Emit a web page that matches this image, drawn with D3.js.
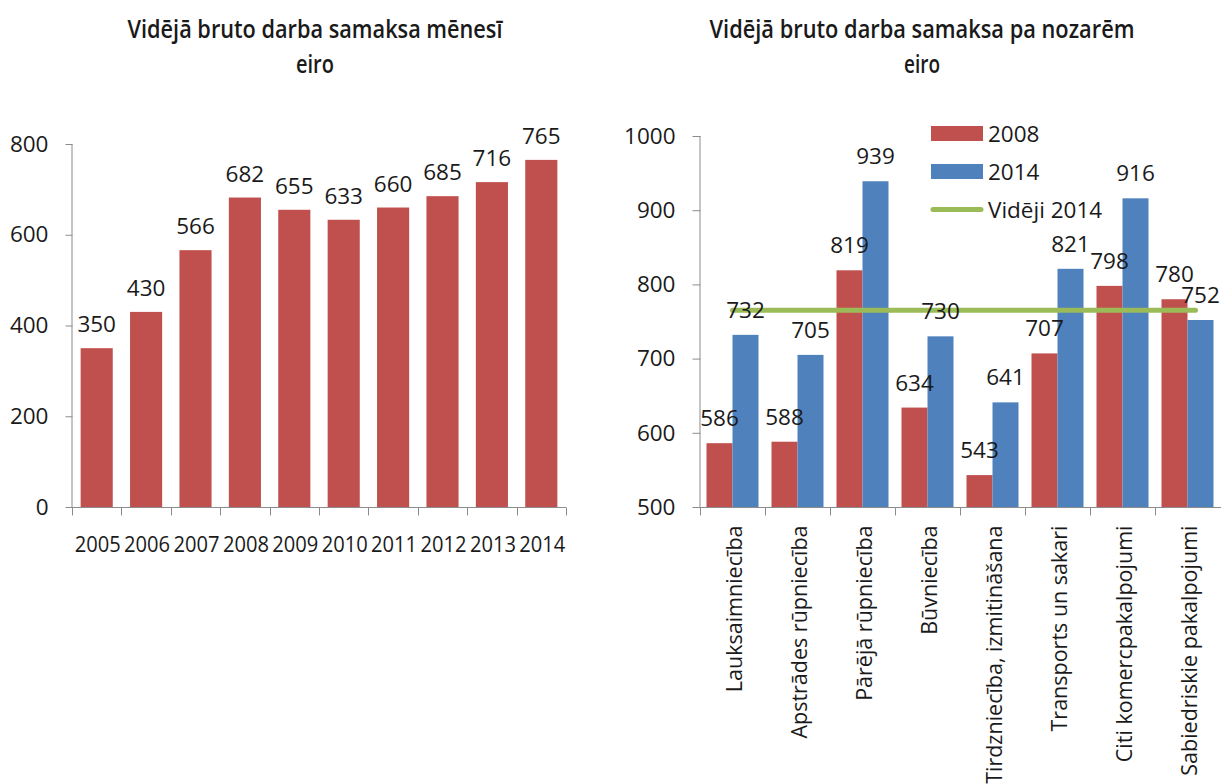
<!DOCTYPE html>
<html>
<head>
<meta charset="utf-8">
<script src="https://cdn.jsdelivr.net/npm/d3@7"></script>
<style>
  body { margin: 0; background: #fff; }
  svg text { font-family: "Open Sans", "Noto Sans", sans-serif; fill: #1a1a1a; }
</style>
</head>
<body>
<script>
// data
var years = ["2005", "2006", "2007", "2008", "2009", "2010", "2011", "2012", "2013", "2014"];
var wageByYear = [350, 430, 566, 682, 655, 633, 660, 685, 716, 765];

var sectors = ["Lauksaimniecība", "Apstrādes rūpniecība", "Pārējā rūpniecība", "Būvniecība",
  "Tirdzniecība, izmitināšana", "Transports un sakari", "Citi komercpakalpojumi", "Sabiedriskie pakalpojumi"];
var wage2008 = [586, 588, 819, 634, 543, 707, 798, 780];
var wage2014 = [732, 705, 939, 730, 641, 821, 916, 752];
var avg2014 = 765;

var leftTicks = [0, 200, 400, 600, 800];
var rightTicks = [500, 600, 700, 800, 900, 1000];

var red = "#c0504d", blue = "#4f81bd", green = "#9bbb59", axisCol = "#8c8c8c";

var svg = d3.select("body").append("svg")
    .attr("width", 1221)
    .attr("height", 784);

// titles
function title(cx, line1, w1, w2) {
  svg.append("text")
    .attr("x", cx).attr("y", 38)
    .attr("text-anchor", "middle")
    .attr("font-size", 25).attr("font-weight", 600)
    .attr("textLength", w1).attr("lengthAdjust", "spacingAndGlyphs")
    .text(line1);
  svg.append("text")
    .attr("x", cx).attr("y", 73)
    .attr("text-anchor", "middle")
    .attr("font-size", 25).attr("font-weight", 600)
    .attr("textLength", w2).attr("lengthAdjust", "spacingAndGlyphs")
    .text("eiro");
}
title(315, "Vidējā bruto darba samaksa mēnesī", 375, 38);
title(922, "Vidējā bruto darba samaksa pa nozarēm", 425, 36);

// ---------- left chart
var x = d3.scaleBand().domain(years).range([72, 566]).paddingInner(0.35).paddingOuter(0.175);
var y = d3.scaleLinear().domain([0, 800]).range([507, 144]);

var left = svg.append("g");

left.selectAll(".bar")
    .data(wageByYear)
  .enter().append("rect")
    .attr("class", "bar")
    .attr("x", (d, i) => x(years[i]))
    .attr("y", d => y(d))
    .attr("width", x.bandwidth())
    .attr("height", d => y(0) - y(d))
    .attr("fill", red);

left.selectAll(".val")
    .data(wageByYear)
  .enter().append("text")
    .attr("class", "val")
    .attr("x", (d, i) => x(years[i]) + x.bandwidth() / 2)
    .attr("y", d => y(d) - 16)
    .attr("text-anchor", "middle")
    .attr("font-size", 22.5)
    .text(d => d);

// y axis
var yAxis = left.append("g")
    .attr("transform", "translate(72.5,0)")
    .call(d3.axisLeft(y).tickValues(leftTicks).tickSize(7).tickPadding(17).tickFormat(d3.format("d")));
yAxis.select(".domain").attr("stroke", axisCol).attr("d", "M-0.5," + y(800) + "V" + (y(0) + 0.5));
yAxis.selectAll(".tick line").attr("stroke", axisCol);
yAxis.selectAll(".tick text").attr("font-size", 22.5).attr("fill", "#1a1a1a")
    .attr("font-family", "Open Sans, sans-serif");

// x axis
var xAx = left.append("g").attr("transform", "translate(0,507.5)");
xAx.append("line").attr("x1", 72).attr("x2", 566).attr("stroke", axisCol);
var bounds = years.map(d => x(d) - x.step() * x.paddingInner() / 2).concat([x.range()[1]]);
xAx.selectAll(".tk").data(bounds).enter().append("line")
    .attr("x1", d => Math.round(d) + 0.5).attr("x2", d => Math.round(d) + 0.5)
    .attr("y1", 0).attr("y2", 8).attr("stroke", axisCol);
xAx.selectAll(".lbl").data(years).enter().append("text")
    .attr("x", d => x(d) + x.bandwidth() / 2 + 1)
    .attr("y", 44.5)
    .attr("text-anchor", "middle")
    .attr("font-size", 21.5)
    .attr("textLength", 46).attr("lengthAdjust", "spacingAndGlyphs")
    .text(d => d);

// ---------- right chart
var x0 = d3.scaleBand().domain(sectors).range([700, 1220]).paddingInner(0.2).paddingOuter(0.1);
var x1 = d3.scaleBand().domain(["2008", "2014"]).range([0, x0.bandwidth()]);
var y2 = d3.scaleLinear().domain([500, 1000]).range([507, 136]);

var right = svg.append("g");
var series = [{key: "2008", values: wage2008, color: red}, {key: "2014", values: wage2014, color: blue}];

series.forEach(function(s) {
  right.selectAll(".b" + s.key)
      .data(s.values)
    .enter().append("rect")
      .attr("x", (d, i) => x0(sectors[i]) + x1(s.key))
      .attr("y", d => y2(d))
      .attr("width", x1.bandwidth())
      .attr("height", d => y2(500) - y2(d))
      .attr("fill", s.color);
});

// average line
var line = d3.line()
    .x((d, i) => x0(d) + x0.bandwidth() / 2 + (i === sectors.length - 1 ? 8 : 0))
    .y(() => y2(avg2014));
right.append("path")
    .attr("d", line(sectors))
    .attr("fill", "none")
    .attr("stroke", green)
    .attr("stroke-width", 5)
    .attr("stroke-linecap", "round");

series.forEach(function(s) {
  right.selectAll(".v" + s.key)
      .data(s.values)
    .enter().append("text")
      .attr("x", (d, i) => x0(sectors[i]) + x1(s.key) + x1.bandwidth() / 2)
      .attr("y", d => y2(d) - 17)
      .attr("text-anchor", "middle")
      .attr("font-size", 22.5)
      .text(d => d);
});

var yAxis2 = right.append("g")
    .attr("transform", "translate(700.5,0)")
    .call(d3.axisLeft(y2).tickValues(rightTicks).tickSize(8).tickPadding(17).tickFormat(d3.format("d")));
yAxis2.select(".domain").attr("stroke", axisCol).attr("d", "M-0.5," + y2(1000) + "V" + (y2(500) + 0.5));
yAxis2.selectAll(".tick line").attr("stroke", axisCol);
yAxis2.selectAll(".tick text").attr("font-size", 22.5).attr("fill", "#1a1a1a")
    .attr("font-family", "Open Sans, sans-serif");

var xAx2 = right.append("g").attr("transform", "translate(0,507.5)");
xAx2.append("line").attr("x1", 700).attr("x2", 1221).attr("stroke", axisCol);
var bounds2 = sectors.map(d => x0(d) - x0.step() * x0.paddingInner() / 2);
xAx2.selectAll(".tk").data(bounds2).enter().append("line")
    .attr("x1", d => Math.round(d) + 0.5).attr("x2", d => Math.round(d) + 0.5)
    .attr("y1", 0).attr("y2", 8).attr("stroke", axisCol);
xAx2.selectAll(".lbl").data(sectors).enter().append("text")
    .attr("transform", d => "translate(" + (x0(d) + x0.bandwidth() / 2 + 2) + ",18) rotate(-90)")
    .attr("text-anchor", "end")
    .attr("dy", "0.35em")
    .attr("font-size", 21.5)
    .text(d => d);

// legend
var legendItems = [{name: "2008", color: red, type: "rect"}, {name: "2014", color: blue, type: "rect"},
  {name: "Vidēji 2014", color: green, type: "line"}];
var legend = svg.selectAll(".legend")
    .data(legendItems)
  .enter().append("g")
    .attr("class", "legend")
    .attr("transform", (d, i) => "translate(931," + (133.5 + i * 38) + ")");
legend.filter(d => d.type === "rect").append("rect")
    .attr("x", 0).attr("y", -7.5).attr("width", 52).attr("height", 15)
    .attr("fill", d => d.color);
legend.filter(d => d.type === "line").append("line")
    .attr("x1", 2).attr("x2", 50).attr("y1", 0).attr("y2", 0)
    .attr("stroke", d => d.color).attr("stroke-width", 5).attr("stroke-linecap", "round");
legend.append("text")
    .attr("x", 57).attr("dy", "0.36em")
    .attr("font-size", 22.5)
    .text(d => d.name);
</script>
</body>
</html>
